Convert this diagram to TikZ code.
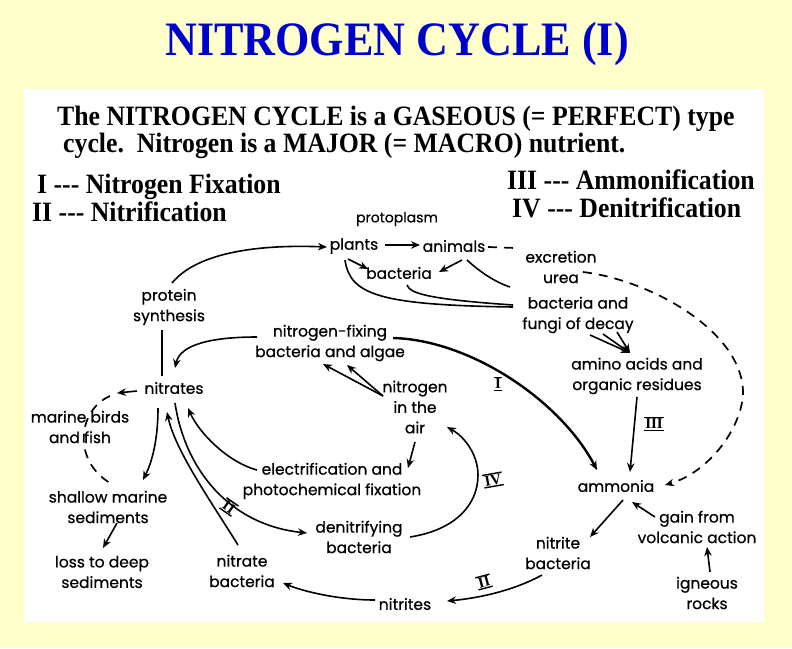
\documentclass[tikz,border=0pt]{standalone}
\usepackage{fontspec}
\setmainfont{Liberation Serif}
\newfontfamily\dfont[FakeBold=0.6]{Poppins}
\usetikzlibrary{arrows.meta,calc}
\definecolor{bgyellow}{RGB}{255,255,204}
\definecolor{titleblue}{RGB}{0,0,204}
\newcommand\rnum[1]{\vbox{\hrule height 1.4pt\kern0.6pt\hbox{\kern1.5pt#1\kern1.5pt}\kern0.6pt\hrule height 1.4pt}}
\tikzset{
 lbl/.style={font=\dfont\fontsize{15.5}{20.5}\selectfont, align=center, inner sep=1pt},
 arr/.style={line width=1.6pt, -{Stealth[length=9pt,width=7.5pt]}},
 ln/.style={line width=1.6pt},
 dsh/.style={line width=1.7pt, dash pattern=on 9pt off 7pt},
 hdr/.style={font=\bfseries\fontsize{28}{32}\selectfont, anchor=base west, inner sep=0pt},
 rn/.style={font=\bfseries\fontsize{15}{16}\selectfont, inner sep=0pt},
}
\begin{document}
\begin{tikzpicture}[x=1pt,y=-1pt]
\fill[bgyellow] (0,0) rectangle (792,648);
\useasboundingbox (0,0) rectangle (792,648);
\fill[white] (24,89) rectangle (764,622);

\node[font=\bfseries\fontsize{48}{52}\selectfont, text=titleblue, anchor=base, inner sep=0pt] (title) at (397,55) {\scalebox{0.92}[1]{NITROGEN CYCLE (I)}};
\node[hdr] (h1) at (57,125) {\scalebox{0.92}[1]{The NITROGEN CYCLE is a GASEOUS (= PERFECT) type}};
\node[hdr] (h2) at (63,152) {\scalebox{0.92}[1]{cycle.\ \ Nitrogen is a MAJOR (= MACRO) nutrient.}};
\node[hdr] (h3) at (37,193) {\scalebox{0.92}[1]{I {-}{-}{-} Nitrogen Fixation}};
\node[hdr] (h4) at (32,221) {\scalebox{0.92}[1]{II {-}{-}{-} Nitrification}};
\node[hdr] (h5) at (507,189) {\scalebox{0.92}[1]{III {-}{-}{-} Ammonification}};
\node[hdr] (h6) at (512,217) {\scalebox{0.92}[1]{IV {-}{-}{-} Denitrification}};

\node[lbl, font=\dfont\fontsize{14}{18}\selectfont] (protoplasm) at (397,219) {protoplasm};
\node[lbl] (plants) at (354,246) {plants};
\node[lbl] (animals) at (454,246) {animals};
\node[lbl] (excr) at (561,267) {excretion\\urea};
\node[lbl] (bact1) at (399,273) {bacteria};
\node[lbl] (fungi) at (578,315) {bacteria and\\fungi of decay};
\node[lbl] (protein) at (169,307) {protein\\synthesis};
\node[lbl] (nfix) at (330,343) {nitrogen-fixing\\bacteria and algae};
\node[lbl] (nitrates) at (174,388) {nitrates};
\node[lbl] (amino) at (637,376) {amino acids and\\organic residues};
\node[lbl] (air) at (415,407) {nitrogen\\in the\\air};
\node[lbl] (birds) at (80,427) {marine birds\\and fish};
\node[lbl] (elec) at (332,481) {electrification and\\photochemical fixation};
\node[lbl] (ammonia) at (616,486) {ammonia};
\node[lbl] (shallow) at (108,507) {shallow marine\\sediments};
\node[lbl] (volc) at (697,527) {gain from\\volcanic action};
\node[lbl] (denit) at (359,537) {denitrifying\\bacteria};
\node[lbl] (loss) at (102,572) {loss to deep\\sediments};
\node[lbl] (nitriteb) at (558,553) {nitrite\\bacteria};
\node[lbl] (nitrateb) at (242,571) {nitrate\\bacteria};
\node[lbl] (igneous) at (707,593) {igneous\\rocks};
\node[lbl] (nitrites) at (405,604) {nitrites};

% protoplasm group
\draw[arr] ($(protein)+(3,-24)$) .. controls (195,255) and (250,244) .. ($(plants)+(-27,1)$);
\draw[arr] ($(plants)+(31,-1)$) -- ($(animals)+(-34,-1)$);
\draw[arr] ($(plants)+(-6,13)$) -- ($(bact1)+(-31,-4)$);
\draw[arr] ($(animals)+(8,14)$) -- ($(bact1)+(40,-1)$);
\draw[ln] ($(plants)+(-9,14)$) .. controls (350,295) and (380,305) .. ($(fungi)+(-65,-8)$);
\draw[ln] ($(bact1)+(8,12)$) .. controls (410,293) and (425,299) .. ($(fungi)+(-65,-10)$);
\draw[ln] ($(animals)+(13,14)$) .. controls (480,272) and (495,282) .. ($(fungi)+(-68,-28)$);
\draw[dsh] ($(animals)+(34,1)$) -- ($(excr)+(-46,-19)$);
\draw[dsh,-{Stealth[length=9pt,width=7.5pt]}] ($(excr)+(22,5)$) .. controls (650,280) and (740,330) .. (743,390) .. controls (744,425) and (710,472) .. ($(ammonia)+(49,-1)$);

% decay to ammonia
\foreach \dx/\dy in {12/20,25/19,39/17} \draw[arr] ($(fungi)+(\dx,\dy)$) -- ($(amino)+(-7,-23)$);
\draw[arr] ($(amino)+(0,21)$) -- ($(ammonia)+(14,-14)$);
\node[rn] (l3) at (654,424) {\rnum{III}};

% fixation
\draw[arr, line width=2.4pt] ($(nfix)+(63,-5)$) .. controls (470,340) and (560,400) .. ($(ammonia)+(-19,-16)$);
\node[rn] (l1) at (498,384) {\rnum{I}};
\draw[arr] ($(nfix)+(-73,-6)$) .. controls (210,337) and (180,345) .. ($(nitrates)+(1,-20)$);
\draw[ln] ($(protein)+(-7,23)$) -- ($(nitrates)+(-12,-12)$);
\draw[arr] ($(air)+(-32,-11)$) -- ($(nfix)+(-7,21)$);
\draw[arr] ($(air)+(-32,-11)$) -- ($(nfix)+(17,22)$);
\draw[arr] ($(air)+(0,35)$) -- ($(elec)+(76,-13)$);
\draw[arr] ($(elec)+(-75,-11)$) .. controls (230,463) and (200,435) .. ($(nitrates)+(14,20)$);

% nitrates
\draw[arr] ($(nitrates)+(1,15)$) .. controls (185,470) and (230,525) .. ($(denit)+(-52,-4)$);
\draw[arr] ($(nitrateb)+(-4,-26)$) .. controls (210,500) and (175,450) .. ($(nitrates)+(-7,24)$);
\node[rn, rotate=-35] (l2a) at (229,507) {\rnum{II}};
\draw[arr] ($(nitrates)+(-16,20)$) .. controls (158,440) and (152,462) .. ($(shallow)+(35,-27)$);
\coordinate (mb1) at (117,393);
\draw[arr] ($(nitrates)+(-37,3)$) -- (mb1);
\draw[dsh] ($(mb1)+(-7,3)$) .. controls (78,410) and (72,460) .. ($(shallow)+(2,-24)$);
\draw[arr] ($(shallow)+(9,16)$) -- ($(loss)+(1,-24)$);

% nitrification
\draw[arr] ($(nitrites)+(-30,-4)$) .. controls (340,600) and (305,592) .. ($(nitrateb)+(41,12)$);
\draw[arr] ($(nitriteb)+(-16,22)$) .. controls (515,590) and (480,598) .. ($(nitrites)+(42,-3)$);
\node[rn, rotate=15] (l2b) at (484,582) {\rnum{II}};
\draw[arr] ($(ammonia)+(7,14)$) -- ($(nitriteb)+(32,-16)$);
\draw[arr] ($(volc)+(-42,-10)$) -- ($(ammonia)+(16,16)$);
\draw[arr] ($(igneous)+(3,-21)$) -- ($(volc)+(10,20)$);

% denitrification
\draw[arr] ($(denit)+(51,0)$) .. controls (455,530) and (478,505) .. (478,475) .. controls (478,455) and (465,437) .. ($(air)+(32,20)$);
\node[rn, rotate=10] (l4) at (493,480) {\rnum{IV}};
\end{tikzpicture}
\end{document}
